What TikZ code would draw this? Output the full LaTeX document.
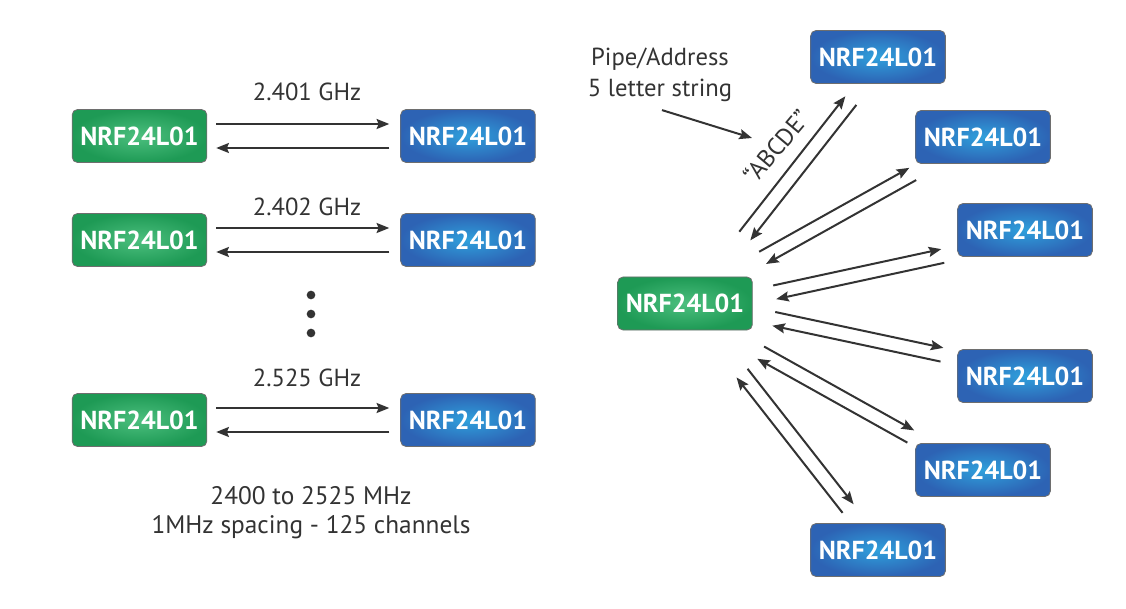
\documentclass[tikz,border=0pt]{standalone}
\usepackage{fontspec}
\setmainfont{PT Sans}
\usepackage{xcolor}
\usepackage{tikz}
\usetikzlibrary{calc,arrows.meta}
\definecolor{ink}{HTML}{333333}
\definecolor{rim}{HTML}{6E6E6E}
\definecolor{gdark}{HTML}{1E9A55}
\definecolor{glight}{HTML}{4CBF7E}
\definecolor{bdark}{HTML}{2D63B4}
\definecolor{blight}{HTML}{2FA0DC}
\tikzset{
  radio/.style={draw=rim, line width=0.6pt, rounded corners=4pt, minimum width=101pt,
    minimum height=39.75pt, inner sep=0pt, text=white, font=\fontsize{19.5}{22}\selectfont\bfseries},
  gbox/.style={radio, inner color=glight, outer color=gdark},
  bbox/.style={radio, inner color=blight, outer color=bdark},
  sig/.style={draw=ink, line width=1.5pt, -{Stealth[length=9.5pt,width=7.5pt,inset=1.5pt]}},
  lab/.style={text=ink, font=\fontsize{18.5}{21.75}\selectfont, align=center},
  dot/.style={circle, fill=ink, inner sep=0pt, minimum size=6.5pt},
}
\begin{document}
\begin{tikzpicture}[x=0.75pt,y=-0.75pt]
  \useasboundingbox (0,0) rectangle (1126,609);

  \node[gbox] (g1) at (139.5,136) {NRF24L01};
  \node[bbox] (b1) at (468,136) {NRF24L01};
  \node[gbox] (g2) at (139.5,240) {NRF24L01};
  \node[bbox] (b2) at (468,240) {NRF24L01};
  \node[gbox] (g3) at (139.5,420) {NRF24L01};
  \node[bbox] (b3) at (468,420) {NRF24L01};
  \node[lab] (f1) at (307,92) {2.401 GHz};
  \node[lab] (f2) at (307,207) {2.402 GHz};
  \node[lab] (f3) at (307,378) {2.525 GHz};
  \foreach \i in {1,2,3}{
    \draw[sig, shorten <=6.75pt, shorten >=8.25pt] ([yshift=9pt]g\i.east) -- ([yshift=9pt]b\i.west);
    \draw[sig, shorten <=8.25pt, shorten >=6.75pt] ([yshift=-9pt]b\i.west) -- ([yshift=-9pt]g\i.east);
  }
  \foreach \y in {295,314,333}
    \node[dot] at (311,\y) {};
  \node[lab, font=\fontsize{19}{21.75}\selectfont] (span) at (311,512.5) {2400 to 2525 MHz\\1MHz spacing - 125 channels};

  \node[gbox] (hub) at (685,303.5) {NRF24L01};
  \node[bbox] (t1) at (878,57) {NRF24L01};
  \node[bbox] (t2) at (983,137) {NRF24L01};
  \node[bbox] (t3) at (1025,230) {NRF24L01};
  \node[bbox] (t4) at (1025,376) {NRF24L01};
  \node[bbox] (t5) at (983,470) {NRF24L01};
  \node[bbox] (t6) at (878,550) {NRF24L01};
  \foreach \t/\o in {t1/-5.5, t2/2, t3/-8, t4/3.5, t5/-6, t6/2}{
    \pgfmathsetmacro\oa{(\o+7)*0.75}
    \pgfmathsetmacro\ob{(\o-7)*0.75}
    \draw[sig] ($(hub.center)!67.5pt!(\t.center)!\oa pt!90:(\t.center)$)
      -- ($(hub.center)!196.5pt!(\t.center)!\oa pt!90:(\t.center)$);
    \draw[sig] ($(hub.center)!196.5pt!(\t.center)!\ob pt!90:(\t.center)$)
      -- ($(hub.center)!67.5pt!(\t.center)!\ob pt!90:(\t.center)$);
  }

  \node[lab, font=\fontsize{18.5}{23.25}\selectfont] (pipe) at (660,74.5) {Pipe/Address\\5 letter string};
  \coordinate (aim) at (752,138);
  \draw[sig] ([xshift=1.5pt,yshift=-3pt]pipe.south) -- (aim);
  \node[lab, rotate=50] (addr) at (776,146) {“ABCDE”};
\end{tikzpicture}
\end{document}
